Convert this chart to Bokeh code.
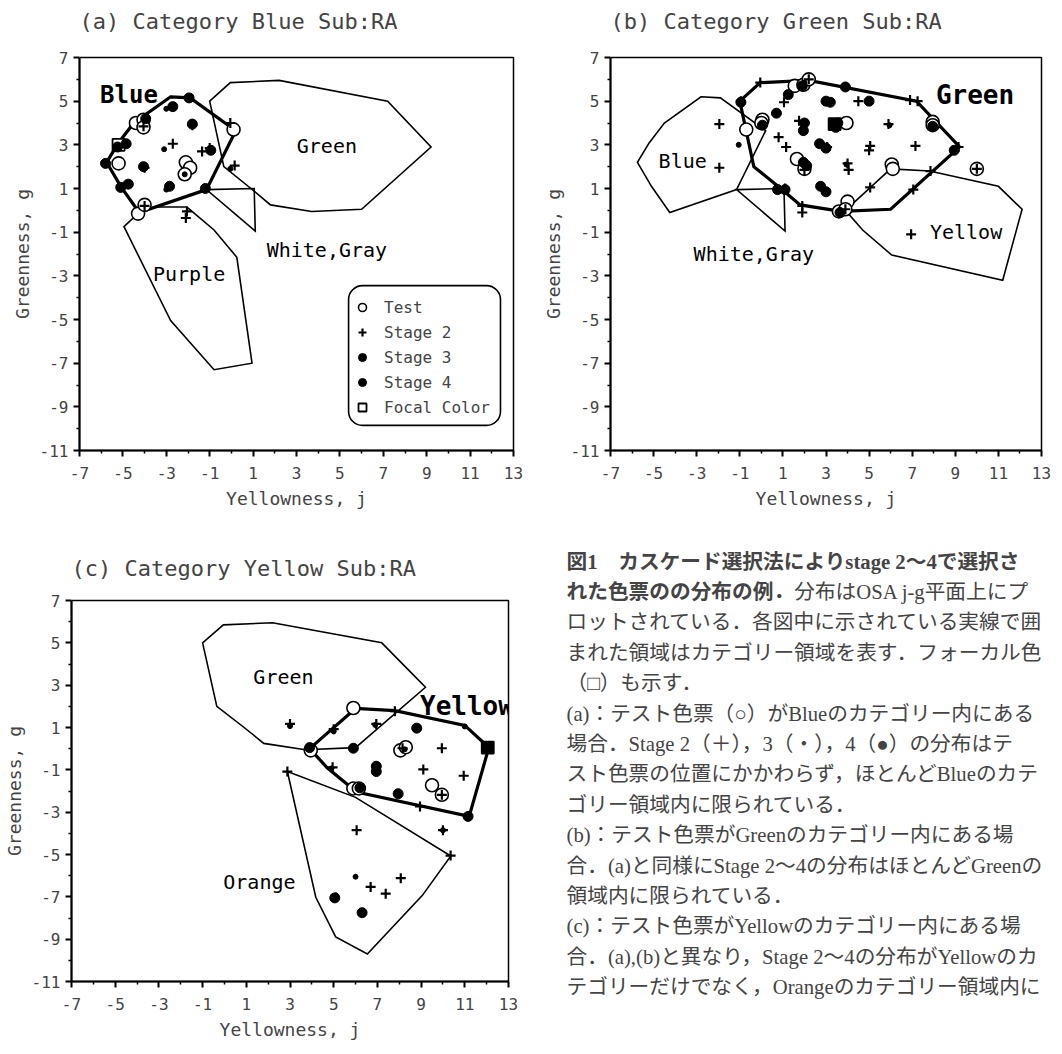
from bokeh.plotting import figure
from bokeh.layouts import column, row
from bokeh.models import (Range1d, FixedTicker, Label, Legend, LegendItem,
                          BoxAnnotation, LinearAxis)
from bokeh.embed import file_html
from bokeh.resources import INLINE

# ---------------- axes ----------------
X_TICKS = [-7, -5, -3, -1, 1, 3, 5, 7, 9, 11, 13]
X_MINOR = [-6, -4, -2, 0, 2, 4, 6, 8, 10, 12]
Y_TICKS = [7, 5, 3, 1, -1, -3, -5, -7, -9, -11]
Y_MINOR = [6, 4, 2, 0, -2, -4, -6, -8, -10]
X_LABEL = "Yellowness, j"
Y_LABEL = "Greenness, g"

# ---------------- category regions (OSA j-g) ----------------
BLUE_J = [-2.8, -1.9, 0.2, -1.15, -4.25, -5.1, -5.75, -5.2, -4.5]
BLUE_G = [5.2, 5.15, 3.65, 0.95, -0.1, 1.1, 2.2, 3.1, 4.0]
GREEN_J = [-1.0, -0.05, 2.2, 7.2, 9.2, 6.0, 3.7, 1.8, 0.9, -0.35]
GREEN_G = [5.0, 5.85, 5.95, 5.0, 2.9, 0.05, -0.05, 0.25, 1.0, 2.0]
WHITE_J = [-1.15, 1.05, 1.1]
WHITE_G = [0.95, 1.0, -0.95]
PURPLE_J = [-4.95, -4.25, -3.5, -2.05, -0.8, 0.25, 0.95, -0.8, -2.8]
PURPLE_G = [-0.75, -0.1, 0.15, 0.15, -0.9, -2.15, -7.0, -7.3, -5.05]
YELLOW_J = [3.9, 6.0, 7.8, 11.0, 12.1, 11.2, 6.05, 4.7]
YELLOW_G = [0.0, 1.9, 1.8, 1.1, 0.05, -3.2, -2.05, -0.9]
ORANGE_J = [2.88, 6.0, 10.36, 9.06, 6.54, 5.09, 4.18]
ORANGE_G = [-1.08, -2.3, -5.07, -6.93, -9.7, -8.89, -7.02]

# ---------------- (a) Category Blue ----------------
A_TEST_J = [-4.4, -4.05, -4.05, 0.1, -5.2, -2.1, -1.9, -2.15, -4.3, -4.0]
A_TEST_G = [4.0, 4.15, 3.8, 3.7, 2.15, 2.2, 1.95, 1.65, -0.15, 0.25]
A_S2_J = [-4.05, -0.05, -1.8, -2.7, -1.35, -1.0, -4.0, 0.15, -4.0, -2.05, -2.1]
A_S2_G = [3.85, 4.0, 3.9, 3.05, 2.7, 2.85, 1.95, 2.05, 0.2, -0.05, -0.35]
A_S3_J = [-3.0, -3.1, -3.0, -2.15, -0.05, -4.9, -1.0, -2.75]
A_S3_G = [4.65, 2.8, 0.95, 1.65, 1.9, 1.2, 2.7, 4.8]
A_S4_J = [-1.95, -2.7, -3.95, -1.8, -5.25, -4.85, -5.8, -5.1, -4.75, -2.85, -1.2, -0.95, -4.05]
A_S4_G = [5.15, 4.75, 4.2, 3.95, 2.9, 3.05, 2.15, 1.05, 1.2, 1.1, 1.0, 2.75, 2.0]
A_FOCAL_J = [-5.2]
A_FOCAL_G = [3.0]

# ---------------- (b) Category Green ----------------
B_TEST_J = [1.55, 1.95, 2.2, 0.05, 0.0, -0.7, 3.95, 1.65, 2.0, 6.05, 6.1, 7.95, 7.95, 10.0, 3.6, 4.0, 3.9]
B_TEST_G = [5.7, 5.75, 6.0, 4.15, 4.0, 3.7, 4.0, 2.35, 1.9, 2.1, 1.9, 4.05, 3.9, 1.9, -0.05, 0.4, 0.05]
B_S2_J = [2.2, -0.05, -0.95, 1.05, 1.75, 0.8, 1.15, -1.95, -1.95, 3.05, 4.5, 6.9, 7.25, 5.9,
          5.05, 5.0, 7.15, 9.15, 10.0, 7.85, 4.0, 4.05, 2.0, 5.05, 7.05, 1.1, 1.9, 1.9, 3.9, 6.95]
B_S2_G = [6.0, 5.85, 5.0, 4.95, 4.1, 3.35, 2.9, 3.95, 1.95, 2.9, 5.0, 5.05, 5.0, 3.95,
          2.95, 2.75, 2.95, 2.9, 1.9, 1.8, 2.15, 1.85, 1.85, 1.05, 0.95, 1.0, 0.2, -0.1, 0.05, -1.1]
B_S3_J = [1.2, 0.75, -1.05, 2.05, 2.95, 2.8, 2.95, 2.75, 4.95, 3.9, 5.95, 3.95, 8.95, 2.0, 0.7]
B_S3_G = [5.25, 4.5, 3.0, 4.05, 4.95, 3.0, 0.85, 1.05, 5.0, 5.65, 3.9, 2.1, 2.7, 5.85, 1.0]
B_S4_J = [-0.95, 1.25, 0.7, 0.05, 2.0, 1.95, 3.0, 3.2, 3.45, 3.55, 2.7, 3.0, 1.95, 2.1,
          5.0, 7.95, 8.95, 0.75, 1.1, 2.75, 3.0, 3.65, 1.9, 3.9]
B_S4_G = [4.95, 5.3, 4.45, 3.9, 4.0, 3.65, 5.0, 4.95, 3.8, 4.0, 3.05, 2.85, 2.2, 2.05,
          5.0, 3.85, 2.75, 0.95, 0.95, 1.1, 0.85, -0.1, 5.7, 5.65]
B_FOCAL_J = [3.4]
B_FOCAL_G = [3.95]

# ---------------- (c) Category Yellow ----------------
C_TEST_J = [5.9, 3.95, 8.05, 8.3, 5.9, 6.15, 9.5, 9.95]
C_TEST_G = [1.92, -0.08, -0.08, 0.07, -1.88, -1.88, -1.73, -2.18]
C_S2_J = [3.0, 5.0, 6.95, 7.8, 8.15, 9.95, 9.1, 10.95, 4.95, 8.95, 9.95, 6.05, 10.0,
          10.35, 2.88, 8.07, 6.69, 7.38]
C_S2_G = [1.17, 0.92, 1.17, 1.77, 0.02, 0.02, -0.98, -1.28, -0.88, -2.73, -2.18, -3.85, -3.85,
          -5.05, -1.08, -6.12, -6.53, -6.85]
C_S3_J = [3.0, 5.0, 6.9, 11.0, 4.9, 8.25, 10.0, 6.0, 5.1]
C_S3_G = [1.07, 0.82, 1.12, 1.05, -0.93, -0.03, -3.85, -6.05, -6.93]
C_S4_J = [3.9, 5.9, 8.8, 6.95, 6.95, 7.95, 11.15, 6.3, 5.05, 6.2]
C_S4_G = [0.05, 0.02, 0.97, -0.83, -1.08, -2.13, -3.2, -7.75, -7.05, -1.85]
C_FOCAL_J = [12.05]
C_FOCAL_G = [0.05]

LEGEND_LABELS = ["Test", "Stage 2", "Stage 3", "Stage 4", "Focal Color"]

CAPTION = [
    ("図1　カスケード選択法によりstage 2～4で選択さ", ""),
    ("れた色票のの分布の例．", "分布はOSA j-g平面上にプ"),
    ("", "ロットされている．各図中に示されている実線で囲"),
    ("", "まれた領域はカテゴリー領域を表す．フォーカル色"),
    ("", "（□）も示す．"),
    ("", "(a)：テスト色票（○）がBlueのカテゴリー内にある"),
    ("", "場合．Stage 2（＋），3（・），4（●）の分布はテ"),
    ("", "スト色票の位置にかかわらず，ほとんどBlueのカテ"),
    ("", "ゴリー領域内に限られている．"),
    ("", "(b)：テスト色票がGreenのカテゴリー内にある場"),
    ("", "合．(a)と同様にStage 2～4の分布はほとんどGreenの"),
    ("", "領域内に限られている．"),
    ("", "(c)：テスト色票がYellowのカテゴリー内にある場"),
    ("", "合．(a),(b)と異なり，Stage 2～4の分布がYellowのカ"),
    ("", "テゴリーだけでなく，Orangeのカテゴリー領域内に"),
]

MONO = "DejaVu Sans Mono"
CJK = "Liberation Serif, Noto Sans CJK JP"


def no_align(p):
    if "frame_align" in p.properties():
        p.frame_align = False


def make_panel(title, fw, fh, mbl, mbr, mbt, mbb, spacer):
    p = figure(frame_width=fw, frame_height=fh,
               x_range=Range1d(-7, 13), y_range=Range1d(-11, 7),
               output_backend="svg", toolbar_location=None, title=title,
               min_border_left=mbl, min_border_right=mbr,
               min_border_top=mbt, min_border_bottom=mbb)
    no_align(p)
    p.grid.visible = False
    p.background_fill_color = "white"
    p.border_fill_color = "white"
    p.outline_line_color = "black"
    p.outline_line_width = 1.5
    p.title.text_font = MONO
    p.title.text_font_size = "22px"
    p.title.text_font_style = "normal"
    p.title.align = "left"
    p.title.standoff = 6
    ax_x = p.below[0]
    ax_y = p.left[0]
    ax_x.ticker = FixedTicker(ticks=X_TICKS, minor_ticks=X_MINOR)
    ax_y.ticker = FixedTicker(ticks=Y_TICKS, minor_ticks=Y_MINOR)
    ax_x.major_label_overrides = {t: str(t) for t in X_TICKS}
    ax_y.major_label_overrides = {t: str(t) for t in Y_TICKS}
    ax_x.axis_label = X_LABEL
    ax_y.axis_label = Y_LABEL
    for ax in (ax_x, ax_y):
        ax.axis_line_width = 2
        ax.major_tick_line_width = 2
        ax.minor_tick_line_width = 1.5
        ax.major_tick_out = 6
        ax.major_tick_in = 0
        ax.minor_tick_out = 3
        ax.minor_tick_in = 0
        ax.major_label_text_font = MONO
        ax.major_label_text_font_size = "16px"
        ax.axis_label_text_font = MONO
        ax.axis_label_text_font_size = "18px"
        ax.axis_label_text_font_style = "normal"
    ax_x.major_label_standoff = 10
    ax_x.axis_label_standoff = 6
    ax_y.major_label_standoff = 5
    ax_y.axis_label_standoff = 4
    # invisible spacer (white tick at the frame corner) between title and frame
    p.add_layout(LinearAxis(ticker=FixedTicker(ticks=[-7], minor_ticks=[]),
                            major_label_overrides={-7: ""},
                            axis_line_color=None,
                            major_tick_line_color="white", major_tick_line_width=1,
                            minor_tick_line_color=None,
                            major_label_text_color="white",
                            major_label_text_font_size="1px",
                            major_tick_out=spacer, major_tick_in=0,
                            minor_tick_out=0, minor_tick_in=0,
                            major_label_standoff=0), "above")
    return p


def region(p, xs, ys, width):
    p.patch(xs, ys, fill_color=None, line_color="black", line_width=width,
            line_join="miter")


def markers(p, tj, tg, s2j, s2g, s3j, s3g, s4j, s4g, fj, fg, focal_fill):
    r_test = p.scatter(tj, tg, marker="circle", size=13, fill_color="white",
                       line_color="black", line_width=1.6)
    r_focal = p.scatter(fj, fg, marker="square", size=12, fill_color=focal_fill,
                        line_color="black", line_width=1.8)
    r_s2 = p.scatter(s2j, s2g, marker="cross", size=10, line_color="black",
                     line_width=2.2)
    r_s3 = p.scatter(s3j, s3g, marker="circle", size=5, fill_color="black",
                     line_color="black")
    r_s4 = p.scatter(s4j, s4g, marker="circle", size=10, fill_color="black",
                     line_color="black")
    return [r_test, r_s2, r_s3, r_s4, r_focal]


def text(p, x, y, s, size="20px", bold=False, align="center"):
    p.add_layout(Label(x=x, y=y, text=s, text_font=MONO, text_font_size=size,
                       text_font_style="bold" if bold else "normal",
                       text_align=align, text_baseline="middle",
                       text_color="black"))


# ---------------- panel (a) ----------------
pa = make_panel("(a) Category Blue Sub:RA", 434, 393, 79, 25, 57, 66, 21)
region(pa, GREEN_J, GREEN_G, 1.6)
region(pa, WHITE_J, WHITE_G, 1.6)
region(pa, PURPLE_J, PURPLE_G, 1.6)
region(pa, BLUE_J, BLUE_G, 3.2)
ra = markers(pa, A_TEST_J, A_TEST_G, A_S2_J, A_S2_G, A_S3_J, A_S3_G,
             A_S4_J, A_S4_G, A_FOCAL_J, A_FOCAL_G, "white")
text(pa, -6.05, 5.3, "Blue", "24px", True, "left")
text(pa, 4.4, 2.95, "Green")
text(pa, 4.4, -1.8, "White,Gray")
text(pa, -1.95, -2.9, "Purple")

box_kw = dict(left=5.4, right=12.4, top=-3.45, bottom=-9.85, fill_color="white",
              fill_alpha=1.0, line_color="black", line_width=1.6, line_alpha=1.0)
if "border_radius" in BoxAnnotation.properties():
    box_kw["border_radius"] = 14
pa.add_layout(BoxAnnotation(**box_kw))
legend = Legend(items=[LegendItem(label=lab, renderers=[r])
                       for lab, r in zip(LEGEND_LABELS, ra)],
                location=(265, 25), border_line_alpha=0, background_fill_alpha=0,
                label_text_font=MONO, label_text_font_size="16px",
                glyph_width=20, glyph_height=20, spacing=5, padding=8, margin=0,
                label_standoff=12)
pa.add_layout(legend)

# ---------------- panel (b) ----------------
pb = make_panel("(b) Category Green Sub:RA", 431, 393, 72, 13, 57, 65, 21)
region(pb, BLUE_J, BLUE_G, 1.6)
region(pb, WHITE_J, WHITE_G, 1.6)
region(pb, YELLOW_J, YELLOW_G, 1.6)
region(pb, GREEN_J, GREEN_G, 3.2)
markers(pb, B_TEST_J, B_TEST_G, B_S2_J, B_S2_G, B_S3_J, B_S3_G,
        B_S4_J, B_S4_G, B_FOCAL_J, B_FOCAL_G, "black")
text(pb, 8.1, 5.3, "Green", "26px", True, "left")
text(pb, -3.65, 2.25, "Blue")
text(pb, -0.35, -2.0, "White,Gray")
text(pb, 9.5, -1.0, "Yellow")

# ---------------- panel (c) ----------------
pc = make_panel("(c) Category Yellow Sub:RA", 437, 381, 69, 36, 84, 74, 17)
region(pc, GREEN_J, GREEN_G, 1.6)
region(pc, ORANGE_J, ORANGE_G, 1.6)
region(pc, YELLOW_J, YELLOW_G, 3.2)
markers(pc, C_TEST_J, C_TEST_G, C_S2_J, C_S2_G, C_S3_J, C_S3_G,
        C_S4_J, C_S4_G, C_FOCAL_J, C_FOCAL_G, "black")
text(pc, 8.95, 2.0, "Yellow", "26px", True, "left")
text(pc, 2.7, 3.4, "Green")
text(pc, 1.6, -6.3, "Orange")

# ---------------- caption (page-pixel coordinates, frame = whole figure) -------
CAP_X0, CAP_X1 = 542, 1054
CAP_Y0, CAP_Y1 = 515, 1054
cap = figure(width=CAP_X1 - CAP_X0, height=CAP_Y1 - CAP_Y0,
             x_range=Range1d(CAP_X0, CAP_X1), y_range=Range1d(CAP_Y1, CAP_Y0),
             output_backend="svg", toolbar_location=None,
             x_axis_type=None, y_axis_type=None, min_border=0)
no_align(cap)
cap.outline_line_color = None
cap.grid.visible = False
FS = 20.7
for i, (bold_part, reg_part) in enumerate(CAPTION):
    y = 560 + i * 30.4
    x = 564
    if bold_part:
        cap.add_layout(Label(x=x, y=y, text=bold_part, text_font=CJK,
                             text_font_size=f"{FS}px", text_font_style="bold",
                             text_baseline="middle", text_align="left"))
        x += len(bold_part) * FS
    if reg_part:
        cap.add_layout(Label(x=x, y=y, text=reg_part, text_font=CJK,
                             text_font_size=f"{FS}px", text_font_style="normal",
                             text_baseline="middle", text_align="left"))

layout = column(row(pa, pb), row(pc, cap))
open("out.html", "w").write(file_html(layout, INLINE))
